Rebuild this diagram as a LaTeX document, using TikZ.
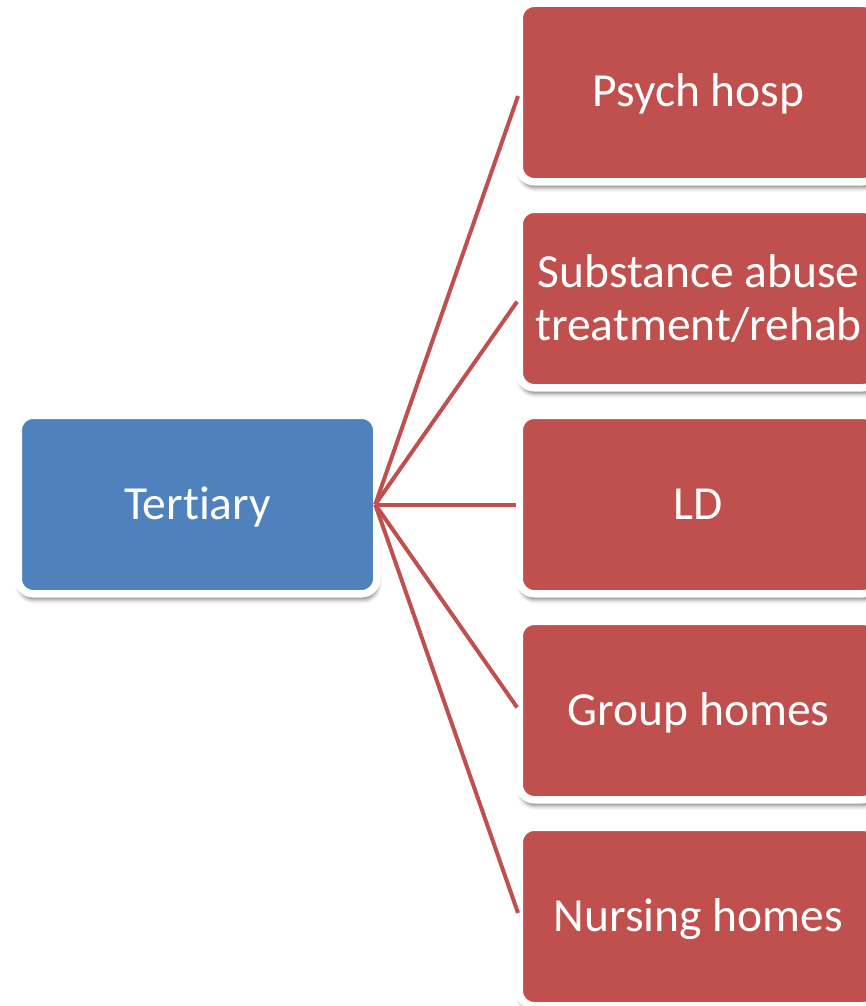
\documentclass[tikz,border=0pt]{standalone}
\usepackage{fontspec}
\setmainfont{Carlito}[RawFeature={-liga;-calt}]
\usetikzlibrary{shadows.blur}
\definecolor{hubblue}{HTML}{4F81BD}
\definecolor{leafred}{HTML}{C0504D}
\tikzset{
  card/.style={draw=white, line width=7.5pt, rounded corners=15pt,
    minimum width=358.5pt, minimum height=178.5pt, outer sep=0pt,
    inner sep=0pt, text=white, align=center,
    font=\fontsize{47.5}{53}\selectfont,
    blur shadow={shadow xshift=1pt, shadow yshift=-6pt,
      shadow blur radius=4pt, shadow opacity=50}},
  oneline/.style={text height=29pt, text depth=0pt},
  hub/.style={card, oneline, fill=hubblue},
  leaf/.style={card, fill=leafred},
  link/.style={draw=leafred, line width=4pt, shorten >=3.75pt}
}
\begin{document}
\begin{tikzpicture}[x=1pt, y=-1pt]
  \useasboundingbox (0,0) rectangle (866,1006);
  \clip (0,0) rectangle (866,1006);
  % root and its five branches
  \node[hub]  (root) at (197.5, 504.5) {Tertiary};
  \node[leaf, oneline] (b1) at (698.5, 92.5)  {Psych hosp};
  \node[leaf] (b2) at (698.5, 298.5) {Substance abuse\\treatment/rehab};
  \node[leaf, oneline] (b3) at (698.5, 504.5) {LD};
  \node[leaf, oneline] (b4) at (698.5, 710.5) {Group homes};
  \node[leaf, oneline] (b5) at (698.5, 916.5) {Nursing homes};
  % connectors fan out from the root's right edge
  \foreach \b in {b1,b2,b3,b4,b5}
    \draw[link] ([xshift=-1.5pt]root.east) -- (\b.west);
\end{tikzpicture}
\end{document}
